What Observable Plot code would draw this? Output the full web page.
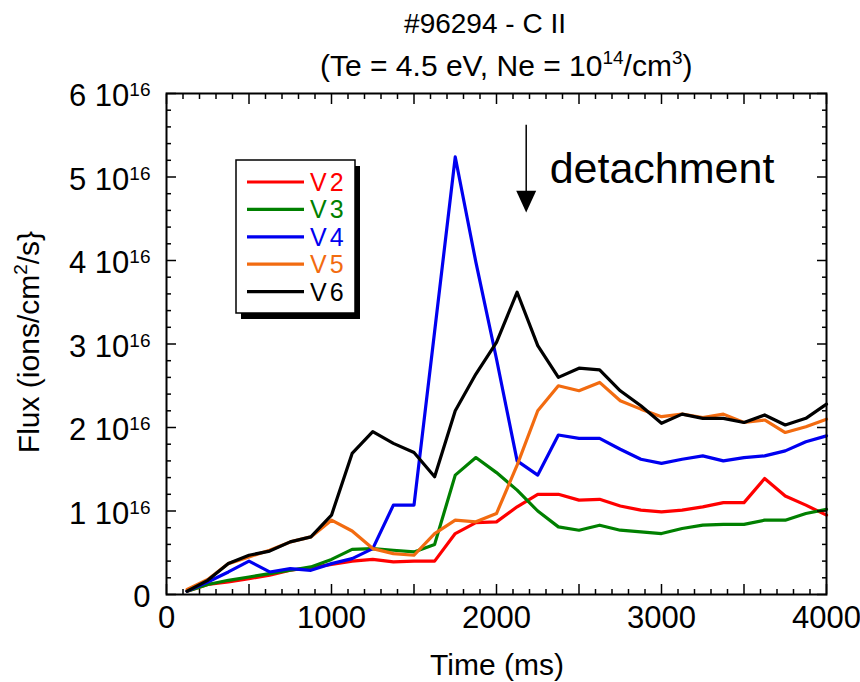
<!DOCTYPE html>
<html><head><meta charset="utf-8">
<script src="https://cdn.jsdelivr.net/npm/d3@7"></script>
<script src="https://cdn.jsdelivr.net/npm/@observablehq/plot@0.6"></script>
<style>
body{margin:0;background:#fff;}
#chart svg{display:block;}
</style></head><body><div id="chart"></div>
<script>
// ---- data (flux in units of 1e16 ions/cm2/s) ----
const times = [125,250,375,500,625,750,875,1000,1125,1250,1375,1500,1625,1750,1875,2000,2125,2250,2375,2500,2625,2750,2875,3000,3125,3250,3375,3500,3625,3750,3875,4000];
const seriesNames = ["V2","V3","V4","V5","V6"];
const seriesColors = ["#ff0000","#008000","#0000f0","#f26b10","#000000"];
const V2 = [0.04,0.12,0.15,0.19,0.23,0.29,0.32,0.36,0.40,0.42,0.39,0.40,0.40,0.73,0.86,0.87,1.05,1.20,1.20,1.13,1.14,1.06,1.01,0.99,1.01,1.05,1.10,1.10,1.39,1.18,1.07,0.95];
const V3 = [0.04,0.12,0.17,0.21,0.25,0.29,0.33,0.42,0.54,0.55,0.53,0.51,0.60,1.43,1.64,1.46,1.25,1.00,0.81,0.77,0.83,0.77,0.75,0.73,0.79,0.83,0.84,0.84,0.89,0.89,0.97,1.02];
const V4 = [0.04,0.15,0.27,0.40,0.27,0.31,0.29,0.37,0.43,0.55,1.07,1.07,3.15,5.24,3.98,2.82,1.60,1.43,1.91,1.87,1.87,1.74,1.62,1.57,1.62,1.66,1.60,1.64,1.66,1.72,1.83,1.90];
const V5 = [0.06,0.18,0.37,0.45,0.53,0.63,0.69,0.89,0.76,0.55,0.49,0.47,0.73,0.89,0.87,0.97,1.55,2.20,2.50,2.44,2.54,2.32,2.22,2.13,2.16,2.12,2.16,2.06,2.09,1.94,2.01,2.10];
const V6 = [0.04,0.17,0.37,0.47,0.52,0.63,0.69,0.95,1.69,1.95,1.81,1.70,1.41,2.20,2.64,3.02,3.62,2.98,2.60,2.71,2.69,2.44,2.26,2.05,2.16,2.11,2.11,2.06,2.15,2.03,2.11,2.28];
const seriesValues = [V2,V3,V4,V5,V6];

// ticks
const xLabelTicks = [0,1000,2000,3000,4000];
const xMidTicks = [0,500,1000,1500,2000,2500,3000,3500,4000];
const xMinorTicks = [100,200,300,400,600,700,800,900,1100,1200,1300,1400,1600,1700,1800,1900,2100,2200,2300,2400,2600,2700,2800,2900,3100,3200,3300,3400,3600,3700,3800,3900];
const yLabelTicks = [0,1,2,3,4,5,6];
const yMinorTicks = [0.2,0.4,0.6,0.8,1.2,1.4,1.6,1.8,2.2,2.4,2.6,2.8,3.2,3.4,3.6,3.8,4.2,4.4,4.6,4.8,5.2,5.4,5.6,5.8];
const yExponent = "16";

// texts
const titleText = "#96294 - C II";
const subtitleParts = ["(Te = 4.5 eV, Ne = 10", "14", "/cm", "3", ")"];
const xLabel = "Time (ms)";
const yLabelParts = ["Flux (ions/cm", "2", "/s}"];

// annotation: detachment arrow
const arrowX = [2180];
const arrowTail = 5.62, arrowShaftEnd = 4.80, arrowHead = 4.72;
const annText = [{x: 2322, y: 5.09, label: "detachment"}];

const rows = [];
seriesNames.forEach((s, i) => times.forEach((t, j) => rows.push({series: s, time: t, value: seriesValues[i][j]})));

const FONT = "'Liberation Sans', Arial, Helvetica, sans-serif";
const tri = {draw(ctx, size){ const s = Math.sqrt(size/Math.PI); ctx.moveTo(-s*1.33, -s*1.3); ctx.lineTo(s*1.33, -s*1.3); ctx.lineTo(0, s*1.6); ctx.closePath(); }};
const blank = () => "";
const tk = {strokeWidth: 1.5, tickFormat: blank, label: null};

const chart = Plot.plot({
  width: 860, height: 682,
  marginLeft: 166, marginRight: 34, marginTop: 93, marginBottom: 88,
  style: {fontFamily: FONT, fontSize: "30px", color: "black", background: "white"},
  x: {domain: [0, 4000]},
  y: {domain: [0, 6]},
  color: {domain: seriesNames, range: seriesColors},
  marks: [
    Plot.line(rows, {x: "time", y: "value", z: "series", stroke: "series", strokeWidth: 3.2}),
    Plot.ruleX(arrowX, {x: d => d, y1: arrowTail, y2: arrowShaftEnd, strokeWidth: 1.5, stroke: "black"}),
    Plot.dot(arrowX, {x: d => d, y: arrowHead, symbol: tri, r: 7.5, fill: "black", stroke: null}),
    Plot.text(annText, {x: "x", y: "y", text: "label", textAnchor: "start", fontSize: 43, fill: "black"}),
    // axes: labels
    Plot.axisX(xLabelTicks, {anchor: "bottom", tickSize: 0, tickPadding: 11, fontSize: 31, label: null, tickFormat: d => String(d)}),
    Plot.axisY(yLabelTicks, {anchor: "left", tickSize: 0, tickPadding: 16, fontSize: 31, label: null, tickFormat: d => d === 0 ? "0" : `${d} 10`}),
    // inward ticks
    Plot.axisX(xMinorTicks, {anchor: "bottom", tickSize: -5, ...tk}),
    Plot.axisX(xMidTicks, {anchor: "bottom", tickSize: -10, ...tk}),
    Plot.axisX(xMinorTicks, {anchor: "top", tickSize: -5, ...tk}),
    Plot.axisX(xMidTicks, {anchor: "top", tickSize: -10, ...tk}),
    Plot.axisY(yMinorTicks, {anchor: "left", tickSize: -5, ...tk}),
    Plot.axisY(yLabelTicks, {anchor: "left", tickSize: -10, ...tk}),
    Plot.axisY(yMinorTicks, {anchor: "right", tickSize: -5, ...tk}),
    Plot.axisY(yLabelTicks, {anchor: "right", tickSize: -10, ...tk}),
    Plot.frame({stroke: "black", strokeWidth: 2})
  ]
});

const svg = d3.select(chart);
svg.attr("font-family", FONT);

// y tick labels: baseline just below the tick, superscript exponent
svg.selectAll('g[aria-label="y-axis tick label"] text')
  .filter(function(){ return this.textContent.length > 0; })
  .attr("dy", "3px");
svg.selectAll("text").filter(function(){ return this.textContent.endsWith(" 10"); })
  .append("tspan").attr("dy", -10).attr("font-size", "19px").text(yExponent);

// title & subtitle
svg.append("text").attr("x", 485).attr("y", 33).attr("text-anchor", "middle").attr("font-size", 28).text(titleText);
const sub = svg.append("text").attr("x", 320).attr("y", 76).attr("text-anchor", "start").attr("font-size", 30);
sub.append("tspan").text(subtitleParts[0]);
sub.append("tspan").attr("dy", -12).attr("font-size", 19).text(subtitleParts[1]);
sub.append("tspan").attr("dy", 12).text(subtitleParts[2]);
sub.append("tspan").attr("dy", -12).attr("font-size", 19).text(subtitleParts[3]);
sub.append("tspan").attr("dy", 12).text(subtitleParts[4]);

// axis labels
svg.append("text").attr("x", 497).attr("y", 675).attr("text-anchor", "middle").attr("font-size", 30).text(xLabel);
const yl = svg.append("text").attr("transform", "translate(39,342) rotate(-90)").attr("text-anchor", "middle").attr("font-size", 30);
yl.append("tspan").text(yLabelParts[0]);
yl.append("tspan").attr("dy", -12).attr("font-size", 19).text(yLabelParts[1]);
yl.append("tspan").attr("dy", 12).text(yLabelParts[2]);

// legend (shadowed box)
const lg = svg.append("g").attr("text-anchor", "start");
lg.append("rect").attr("x", 241).attr("y", 166).attr("width", 119).attr("height", 153).attr("fill", "black");
lg.append("rect").attr("x", 236).attr("y", 160).attr("width", 119).attr("height", 153).attr("fill", "white").attr("stroke", "black").attr("stroke-width", 1.5);
seriesNames.forEach((s, i) => {
  const yy = 182 + i * 27.4;
  lg.append("line").attr("x1", 247).attr("x2", 304).attr("y1", yy).attr("y2", yy).attr("stroke", seriesColors[i]).attr("stroke-width", 3.2);
  lg.append("text").attr("x", 310).attr("y", yy).attr("dy", "0.36em").attr("text-anchor", "start").attr("font-size", 25).attr("letter-spacing", 3).attr("fill", seriesColors[i]).text(s);
});

document.getElementById("chart").append(chart);
</script></body></html>
